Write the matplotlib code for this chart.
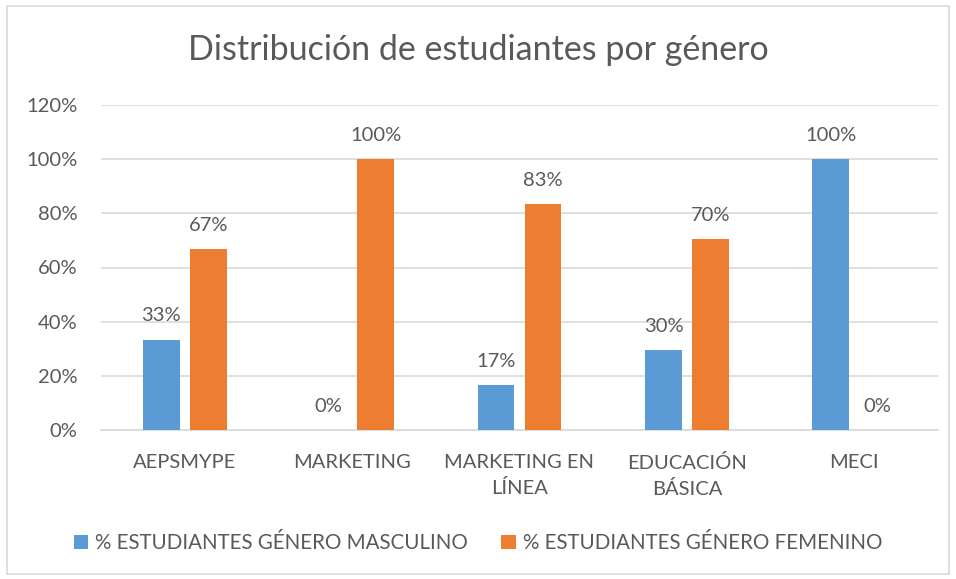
import numpy as np
import matplotlib.pyplot as plt
from matplotlib.patches import Rectangle

# Data
categorias = ["AEPSMYPE", "MARKETING", "MARKETING EN\nLÍNEA", "EDUCACIÓN\nBÁSICA", "MECI"]
masculino = [33.33, 0.0, 16.67, 29.6, 100.0]
femenino = [66.67, 100.0, 83.33, 70.4, 0.0]
series_names = ["% ESTUDIANTES GÉNERO MASCULINO", "% ESTUDIANTES GÉNERO FEMENINO"]
yticks = [0, 20, 40, 60, 80, 100, 120]

plt.rcParams['font.family'] = ['Lato', 'DejaVu Sans']
text_color = '#595959'
blue = '#5B9BD5'
orange = '#ED7D31'

W, H = 956, 579
fig = plt.figure(figsize=(W / 100, H / 100), dpi=100)
ax = fig.add_axes([101 / W, 1 - 430 / H, (938 - 101) / W, (430 - 105) / H])

x = np.arange(len(categorias))
bw = 0.22
off = 0.14
b1 = ax.bar(x - off, masculino, bw, color=blue, label=series_names[0], zorder=3)
b2 = ax.bar(x + off, femenino, bw, color=orange, label=series_names[1], zorder=3)

for bars, vals in ((b1, masculino), (b2, femenino)):
    for rect, v in zip(bars, vals):
        ax.annotate(f"{v:.0f}%", (rect.get_x() + rect.get_width() / 2, v),
                    xytext=(0, 11), textcoords='offset points', ha='center', va='bottom',
                    fontsize=14.5, color=text_color)

ax.set_xlim(-0.5, len(categorias) - 0.5)
ax.set_ylim(0, 120)
ax.set_yticks(yticks)
ax.set_yticklabels([f"{t}%" for t in yticks])
ax.set_xticks(x)
ax.set_xticklabels(categorias, linespacing=1.55)
ax.tick_params(axis='y', length=0, pad=17, labelsize=14.5, labelcolor=text_color)
ax.tick_params(axis='x', length=0, pad=17, labelsize=14.5, labelcolor=text_color)
ax.grid(axis='y', color='#D9D9D9', linewidth=1.2, zorder=0)
for s in ('top', 'right', 'left'):
    ax.spines[s].set_visible(False)
ax.spines['bottom'].set_color('#D9D9D9')
ax.spines['bottom'].set_linewidth(1.2)

fig.text(0.5, 1 - 50 / H, "Distribución de estudiantes por género", ha='center', va='center',
         fontsize=24.5, color=text_color)

fig.legend(loc='center', bbox_to_anchor=(0.5, 1 - 543 / H), ncol=2, frameon=False,
           fontsize=14.8, labelcolor=text_color, handlelength=0.7, handleheight=0.7,
           handletextpad=0.35, columnspacing=1.6)

fig.patches.append(Rectangle((7 / W, 1 - 574 / H), (949 - 7) / W, (574 - 6) / H,
                             transform=fig.transFigure, fill=False,
                             edgecolor='#D9D9D9', linewidth=1.2))

fig.savefig("out.png", dpi=100)
